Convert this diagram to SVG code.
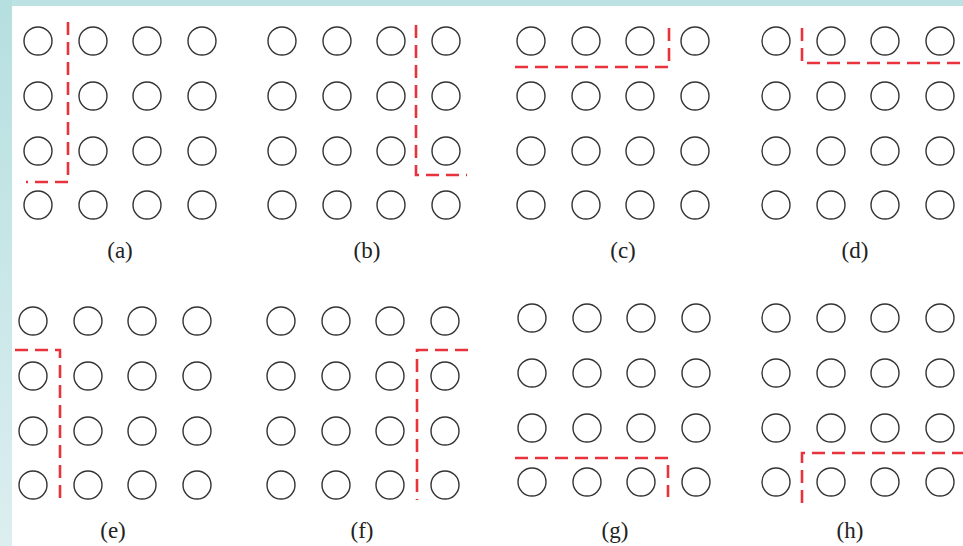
<svg xmlns="http://www.w3.org/2000/svg" width="963" height="546" viewBox="0 0 963 546">
<defs>
<linearGradient id="side" x1="0" y1="0" x2="0" y2="1">
<stop offset="0" stop-color="#b6dfe0"/>
<stop offset="1" stop-color="#dceef0"/>
</linearGradient>
<g id="grid" fill="none" stroke="#333" stroke-width="1.4">
<circle cx="0" cy="0" r="14"/><circle cx="55" cy="0" r="14"/><circle cx="109" cy="0" r="14"/><circle cx="164" cy="0" r="14"/>
<circle cx="0" cy="55" r="14"/><circle cx="55" cy="55" r="14"/><circle cx="109" cy="55" r="14"/><circle cx="164" cy="55" r="14"/>
<circle cx="0" cy="110" r="14"/><circle cx="55" cy="110" r="14"/><circle cx="109" cy="110" r="14"/><circle cx="164" cy="110" r="14"/>
<circle cx="0" cy="164" r="14"/><circle cx="55" cy="164" r="14"/><circle cx="109" cy="164" r="14"/><circle cx="164" cy="164" r="14"/>
</g>
</defs>
<style>
.cut{fill:none;stroke:#e8333d;stroke-width:2.6;stroke-dasharray:13,7}
.lbl{font-family:"Liberation Serif","DejaVu Serif",serif;font-size:23px;fill:#222;text-anchor:middle}
</style>
<rect x="0" y="0" width="963" height="546" fill="#ffffff"/>
<rect x="0" y="0" width="963" height="6" fill="#bde2e3"/>
<rect x="0" y="0" width="12" height="546" fill="url(#side)"/>

<g id="panel-a"><use href="#grid" x="38" y="41"/><text class="lbl" x="120" y="258">(a)</text></g>
<g id="panel-b"><use href="#grid" x="282" y="41"/><text class="lbl" x="367" y="258">(b)</text></g>
<g id="panel-c"><use href="#grid" x="531" y="41"/><text class="lbl" x="623" y="258">(c)</text></g>
<g id="panel-d"><use href="#grid" x="776" y="41"/><text class="lbl" x="855" y="258">(d)</text></g>
<g id="panel-e"><use href="#grid" x="33" y="321"/><text class="lbl" x="113" y="538">(e)</text></g>
<g id="panel-f"><use href="#grid" x="281" y="321"/><text class="lbl" x="362" y="538">(f)</text></g>
<g id="panel-g"><use href="#grid" x="532" y="318"/><text class="lbl" x="615" y="538">(g)</text></g>
<g id="panel-h"><use href="#grid" x="776" y="318"/><text class="lbl" x="850" y="538">(h)</text></g>

<g id="connectors">
<polyline class="cut" points="68,22 68,182 26,182"/>
<polyline class="cut" points="416,25 416,175 467,175"/>
<polyline class="cut" points="515,67 669,67 669,28"/>
<polyline class="cut" points="802,28 802,63 963,63"/>
<polyline class="cut" points="15,350 60,350 60,503"/>
<polyline class="cut" points="468,350 417,350 417,500"/>
<polyline class="cut" points="515,458 668,458 668,497"/>
<polyline class="cut" points="802,503 802,453 963,453"/>
</g>
</svg>
